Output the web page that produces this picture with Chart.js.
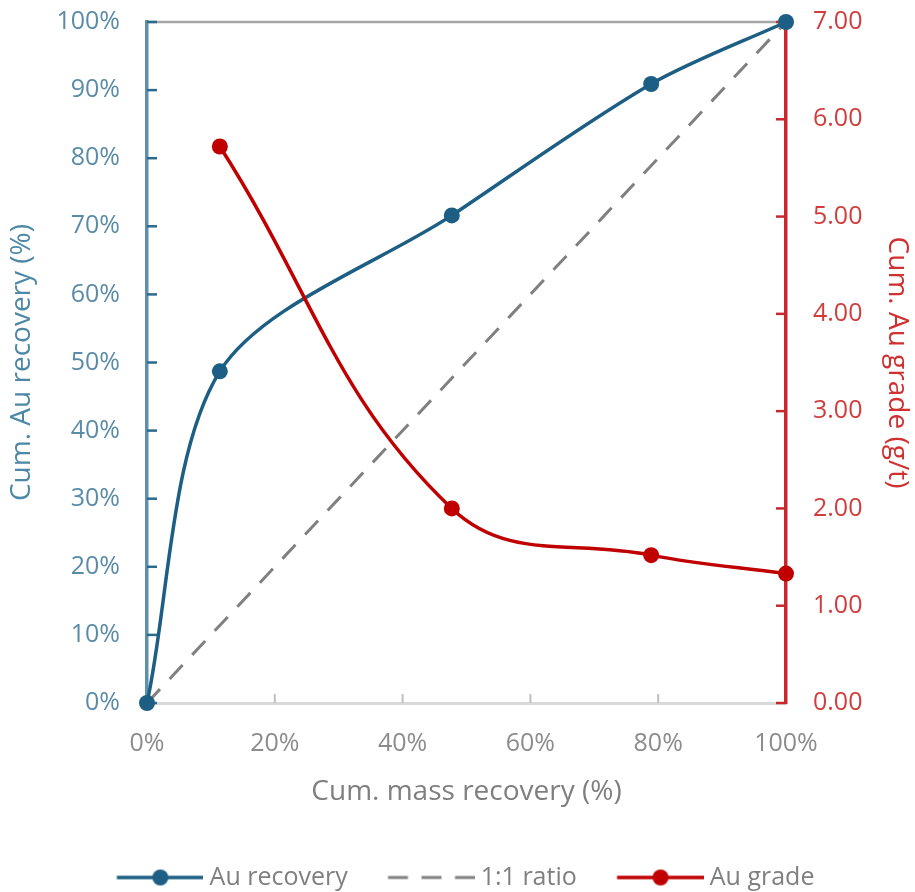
<!DOCTYPE html>
<html>
<head>
<meta charset="utf-8">
<script src="https://cdn.jsdelivr.net/npm/chart.js@4.4.1/dist/chart.umd.min.js"></script>
<style>
  html, body { margin: 0; padding: 0; background: #fff; overflow: hidden; }
  #wrap { width: 915px; height: 900px; position: relative; }
</style>
</head>
<body>
<div id="wrap"><canvas id="c"></canvas></div>
<script>
// ---- data ----
const massRecovery = [0, 11.4, 47.7, 78.9, 100];
const auRecovery   = [0, 48.7, 71.6, 90.9, 100];
const gradeMass    = [11.4, 47.7, 78.9, 100];
const auGrade      = [5.72, 2.00, 1.52, 1.33];
const ratioX       = [0, 100];
const ratioY       = [0, 100];
const seriesNames  = ['Au recovery', '1:1 ratio', 'Au grade'];
const xTitle = 'Cum. mass recovery (%)';
const yTitle = 'Cum. Au recovery (%)';
const y1Title = 'Cum. Au grade (g/t)';

const BLUE = '#1D5F84', RED = '#C00000', GREY = '#808080';
const FONT = "'Open Sans', 'Noto Sans', sans-serif";

const pts = (xs, ys) => xs.map((x, i) => ({x, y: ys[i]}));

// legend marker images
const BOXW = 96.5, LINE_LEN = 87;
function marker(color, dashed, dot) {
  const c = document.createElement('canvas');
  const W = BOXW + 13, H = 20;
  c.width = W; c.height = H;
  const g = c.getContext('2d');
  g.strokeStyle = color; g.lineWidth = dashed ? 3 : 3.5;
  if (dashed) g.setLineDash([20, 13.5]);
  g.beginPath(); g.moveTo(W - LINE_LEN, H / 2); g.lineTo(W, H / 2); g.stroke();
  if (dot) {
    g.fillStyle = color;
    g.beginPath(); g.arc(W - LINE_LEN / 2, H / 2, 8, 0, Math.PI * 2); g.fill();
  }
  return c;
}
const markers = [marker(BLUE, false, true), marker(GREY, true, false), marker(RED, false, true)];

const innerTicks = {
  id: 'innerTicks',
  beforeDatasetsDraw(chart) {
    const {ctx, chartArea: a, scales} = chart;
    ctx.save();
    ctx.strokeStyle = '#A6A6A6'; ctx.lineWidth = 2.5;
    ctx.beginPath(); ctx.moveTo(a.left, a.top); ctx.lineTo(a.right, a.top); ctx.stroke();
    ctx.strokeStyle = '#BFBFBF'; ctx.lineWidth = 2;
    scales.x.ticks.forEach((t, i) => {
      const px = scales.x.getPixelForTick(i);
      if (i === 0 || i === scales.x.ticks.length - 1) return;
      ctx.beginPath(); ctx.moveTo(px, a.bottom); ctx.lineTo(px, a.bottom - 9); ctx.stroke();
    });
    ctx.strokeStyle = '#2A6A8C'; ctx.lineWidth = 2.5;
    scales.y.ticks.forEach((t, i) => {
      const py = scales.y.getPixelForTick(i);
      ctx.beginPath(); ctx.moveTo(a.left, py); ctx.lineTo(a.left + 10, py); ctx.stroke();
    });
    ctx.strokeStyle = '#C8282D';
    scales.y1.ticks.forEach((t, i) => {
      const py = scales.y1.getPixelForTick(i);
      ctx.beginPath(); ctx.moveTo(a.right, py); ctx.lineTo(a.right - 10, py); ctx.stroke();
    });
    ctx.restore();
  }
};

new Chart(document.getElementById('c'), {
  type: 'line',
  data: {
    datasets: [
      { label: seriesNames[0], data: pts(massRecovery, auRecovery), yAxisID: 'y',
        borderColor: BLUE, backgroundColor: BLUE, borderWidth: 3.5, tension: 0.3,
        pointRadius: 8, pointHoverRadius: 8, pointBackgroundColor: BLUE, pointBorderWidth: 0, clip: false, order: 1 },
      { label: seriesNames[1], data: pts(ratioX, ratioY), yAxisID: 'y',
        borderColor: GREY, borderWidth: 3, borderDash: [19, 14], pointRadius: 0, tension: 0, clip: false, order: 2 },
      { label: seriesNames[2], data: pts(gradeMass, auGrade), yAxisID: 'y1',
        borderColor: RED, backgroundColor: RED, borderWidth: 3.5, tension: 0.4,
        pointRadius: 8, pointHoverRadius: 8, pointBackgroundColor: RED, pointBorderWidth: 0, clip: false, order: 0 }
    ]
  },
  options: {
    responsive: true, maintainAspectRatio: false, animation: false,
    layout: { padding: { top: 22, left: 0, right: 0, bottom: 0 } },
    plugins: {
      tooltip: { enabled: false },
      legend: {
        position: 'bottom',
        labels: {
          usePointStyle: true, pointStyleWidth: BOXW, padding: 24,
          color: '#7F7F7F', font: { family: FONT, size: 25 },
          sort: (a, b) => a.datasetIndex - b.datasetIndex,
          generateLabels(chart) {
            const items = Chart.defaults.plugins.legend.labels.generateLabels(chart);
            items.forEach(it => { it.pointStyle = markers[it.datasetIndex]; });
            return items;
          }
        }
      }
    },
    scales: {
      x: {
        type: 'linear', min: 0, max: 100,
        ticks: { stepSize: 20, padding: 26, color: '#8C8C8C', font: { family: FONT, size: 25 }, callback: v => v + '%' },
        grid: { drawOnChartArea: false, drawTicks: false },
        border: { color: '#D9D9D9', width: 3 },
        title: { display: true, text: xTitle, color: '#7F7F7F', font: { family: FONT, size: 28 }, padding: { top: 0, bottom: 32 } },
        afterFit(s) { s.height = 138; s.paddingLeft = 0; s.paddingRight = 0; }
      },
      y: {
        position: 'left', min: 0, max: 100,
        ticks: { stepSize: 10, padding: 27, color: '#5A8CA8', font: { family: FONT, size: 25 }, callback: v => v + '%' },
        grid: { drawOnChartArea: false, drawTicks: false },
        border: { color: '#5E90AA', width: 3.5 },
        title: { display: true, text: yTitle, color: '#4D88A6', font: { family: FONT, size: 28 }, padding: { top: 5, bottom: 0 } },
        afterFit(s) { s.width = 147; s.paddingTop = 0; s.paddingBottom = 0; }
      },
      y1: {
        position: 'right', min: 0, max: 7,
        ticks: { stepSize: 1, padding: 27, color: '#D23C3C', font: { family: FONT, size: 25 }, callback: v => v.toFixed(2) },
        grid: { drawOnChartArea: false, drawTicks: false },
        border: { color: '#C8282D', width: 3.5 },
        title: { display: true, text: y1Title, color: '#D03030', font: { family: FONT, size: 28 }, padding: { top: 1, bottom: 0 } },
        afterFit(s) { s.width = 129; s.paddingTop = 0; s.paddingBottom = 0; }
      }
    }
  },
  plugins: [innerTicks]
});
</script>
</body>
</html>
